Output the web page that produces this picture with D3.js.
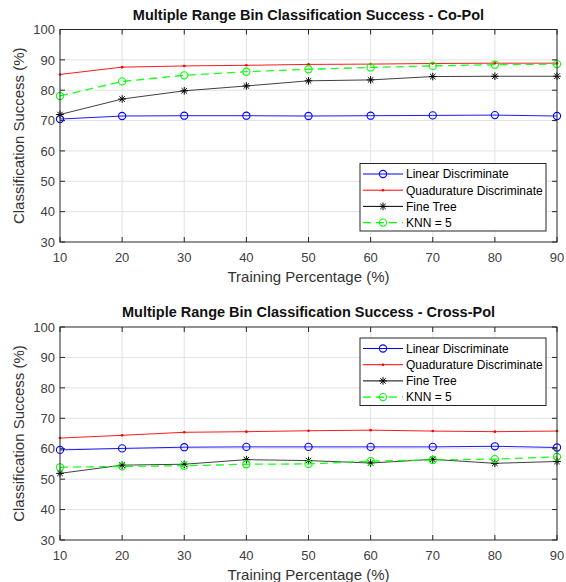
<!DOCTYPE html>
<html>
<head>
<meta charset="utf-8">
<script src="https://cdn.jsdelivr.net/npm/d3@7"></script>
<style>
  html, body { margin: 0; padding: 0; background: #fff; }
  svg { display: block; font-family: "Liberation Sans", Arial, Helvetica, sans-serif; }
</style>
</head>
<body>
<svg id="chart" width="566" height="582"></svg>
<script>
// Training percentages on the x axis
const trainingPct = [10, 20, 30, 40, 50, 60, 70, 80, 90];
const yTicks = [30, 40, 50, 60, 70, 80, 90, 100];
const xTicks = [10, 20, 30, 40, 50, 60, 70, 80, 90];

const seriesNames = ["Linear Discriminate", "Quadurature Discriminate", "Fine Tree", "KNN = 5"];

// Co-Pol classification success (%)
const copolLinear = [70.5, 71.5, 71.6, 71.6, 71.5, 71.6, 71.7, 71.8, 71.5];
const copolQuad   = [85.2, 87.6, 88.0, 88.2, 88.5, 88.6, 88.8, 88.9, 88.9];
const copolTree   = [72.0, 77.1, 79.8, 81.4, 83.1, 83.4, 84.5, 84.6, 84.6];
const copolKnn    = [78.1, 82.9, 84.9, 86.1, 86.9, 87.5, 88.0, 88.4, 88.6];

// Cross-Pol classification success (%)
const crossLinear = [59.6, 60.1, 60.5, 60.6, 60.6, 60.6, 60.6, 60.8, 60.4];
const crossQuad   = [63.5, 64.4, 65.4, 65.6, 65.9, 66.1, 65.8, 65.6, 65.8];
const crossTree   = [51.9, 54.6, 54.9, 56.4, 56.1, 55.3, 56.5, 55.2, 55.8];
const crossKnn    = [53.9, 54.2, 54.4, 54.9, 55.0, 55.9, 56.3, 56.6, 57.3];

const styles = [
  { color: "#0000ff", marker: "circle", dash: null },
  { color: "#ff0000", marker: "dot", dash: null },
  { color: "#000000", marker: "star", dash: null },
  { color: "#00ff00", marker: "circle", dash: "8,5" }
];

const svg = d3.select("#chart");
const axisColor = "#262626";
const gridColor = "#e3e3e3";

function drawMarker(g, kind, cx, cy, color) {
  if (kind === "circle") {
    g.append("circle").attr("cx", cx).attr("cy", cy).attr("r", 3.6)
      .attr("fill", "none").attr("stroke", color).attr("stroke-width", 1.1);
  } else if (kind === "dot") {
    g.append("circle").attr("cx", cx).attr("cy", cy).attr("r", 1.3)
      .attr("fill", color);
  } else if (kind === "star") {
    const s = 3.8, d = s * 0.72;
    const segs = [[-s, 0, s, 0], [0, -s, 0, s], [-d, -d, d, d], [-d, d, d, -d]];
    segs.forEach(p => g.append("line")
      .attr("x1", cx + p[0]).attr("y1", cy + p[1])
      .attr("x2", cx + p[2]).attr("y2", cy + p[3])
      .attr("stroke", color).attr("stroke-width", 1));
  }
}

function drawPanel(cfg) {
  const x = d3.scaleLinear().domain([10, 90]).range([60, 557]);
  const y = d3.scaleLinear().domain([30, 100]).range([cfg.bottom, cfg.top]);
  const g = svg.append("g");

  // grid
  g.append("g").selectAll("line").data(xTicks.slice(1, -1)).join("line")
    .attr("x1", d => x(d)).attr("x2", d => x(d))
    .attr("y1", cfg.top).attr("y2", cfg.bottom)
    .attr("stroke", gridColor).attr("stroke-width", 1);
  g.append("g").selectAll("line").data(yTicks.slice(1, -1)).join("line")
    .attr("x1", 60).attr("x2", 557)
    .attr("y1", d => y(d)).attr("y2", d => y(d))
    .attr("stroke", gridColor).attr("stroke-width", 1);

  // series
  cfg.series.forEach((vals, i) => {
    const st = styles[i];
    const line = d3.line().x((d, j) => x(trainingPct[j])).y(d => y(d));
    g.append("path").datum(vals).attr("d", line)
      .attr("fill", "none").attr("stroke", st.color)
      .attr("stroke-width", i === 3 ? 1.3 : 1)
      .attr("stroke-opacity", i === 2 ? 0.75 : 0.9)
      .attr("stroke-dasharray", st.dash);
    const mg = g.append("g");
    vals.forEach((v, j) => drawMarker(mg, st.marker, x(trainingPct[j]), y(v), st.color));
  });

  // axes with inward ticks on all sides
  const tickLen = 5;
  const axG = g.append("g").attr("stroke", axisColor).attr("stroke-width", 1);
  axG.append("rect").attr("x", 60).attr("y", cfg.top)
    .attr("width", 497).attr("height", cfg.bottom - cfg.top).attr("fill", "none");
  xTicks.forEach(t => {
    axG.append("line").attr("x1", x(t)).attr("x2", x(t)).attr("y1", cfg.bottom).attr("y2", cfg.bottom - tickLen);
    axG.append("line").attr("x1", x(t)).attr("x2", x(t)).attr("y1", cfg.top).attr("y2", cfg.top + tickLen);
  });
  yTicks.forEach(t => {
    axG.append("line").attr("x1", 60).attr("x2", 60 + tickLen).attr("y1", y(t)).attr("y2", y(t));
    axG.append("line").attr("x1", 557).attr("x2", 557 - tickLen).attr("y1", y(t)).attr("y2", y(t));
  });

  // tick labels
  g.append("g").selectAll("text").data(xTicks).join("text")
    .attr("x", d => x(d)).attr("y", cfg.bottom + 20)
    .attr("text-anchor", "middle").attr("font-size", 13).attr("fill", "#404040")
    .text(d => d);
  g.append("g").selectAll("text").data(yTicks).join("text")
    .attr("x", 55).attr("y", d => y(d) + 4.7)
    .attr("text-anchor", "end").attr("font-size", 13).attr("fill", "#404040")
    .text(d => d);

  // axis titles
  g.append("text").attr("x", 308.5).attr("y", cfg.bottom + 39.5)
    .attr("text-anchor", "middle").attr("font-size", 15).attr("fill", "#333")
    .text("Training Percentage (%)");
  const midY = (cfg.top + cfg.bottom) / 2;
  g.append("text").attr("transform", `translate(23.5,${midY}) rotate(-90)`)
    .attr("text-anchor", "middle").attr("font-size", 15).attr("fill", "#333")
    .text("Classification Success (%)");

  // panel title
  g.append("text").attr("x", 308.5).attr("y", cfg.top - 10)
    .attr("text-anchor", "middle").attr("font-size", 14.5).attr("font-weight", "bold")
    .attr("fill", "#111").text(cfg.title);

  // legend
  const lg = g.append("g");
  lg.append("rect").attr("x", 360).attr("y", cfg.legendTop).attr("width", 186).attr("height", 67.5)
    .attr("fill", "#fff").attr("stroke", axisColor).attr("stroke-width", 1);
  seriesNames.forEach((name, i) => {
    const st = styles[i];
    const ry = cfg.legendTop + 10.5 + i * 16.2;
    lg.append("line").attr("x1", 363).attr("x2", 403).attr("y1", ry).attr("y2", ry)
      .attr("stroke", st.color).attr("stroke-width", i === 3 ? 1.3 : 1)
      .attr("stroke-dasharray", st.dash);
    drawMarker(lg, st.marker, 383, ry, st.color);
    lg.append("text").attr("x", 406).attr("y", ry + 4.3)
      .attr("font-size", 12).attr("fill", "#000").text(name);
  });
}

drawPanel({
  title: "Multiple Range Bin Classification Success - Co-Pol",
  top: 29.5, bottom: 242, legendTop: 163.5,
  series: [copolLinear, copolQuad, copolTree, copolKnn]
});
drawPanel({
  title: "Multiple Range Bin Classification Success - Cross-Pol",
  top: 327, bottom: 540, legendTop: 338,
  series: [crossLinear, crossQuad, crossTree, crossKnn]
});
</script>
</body>
</html>
